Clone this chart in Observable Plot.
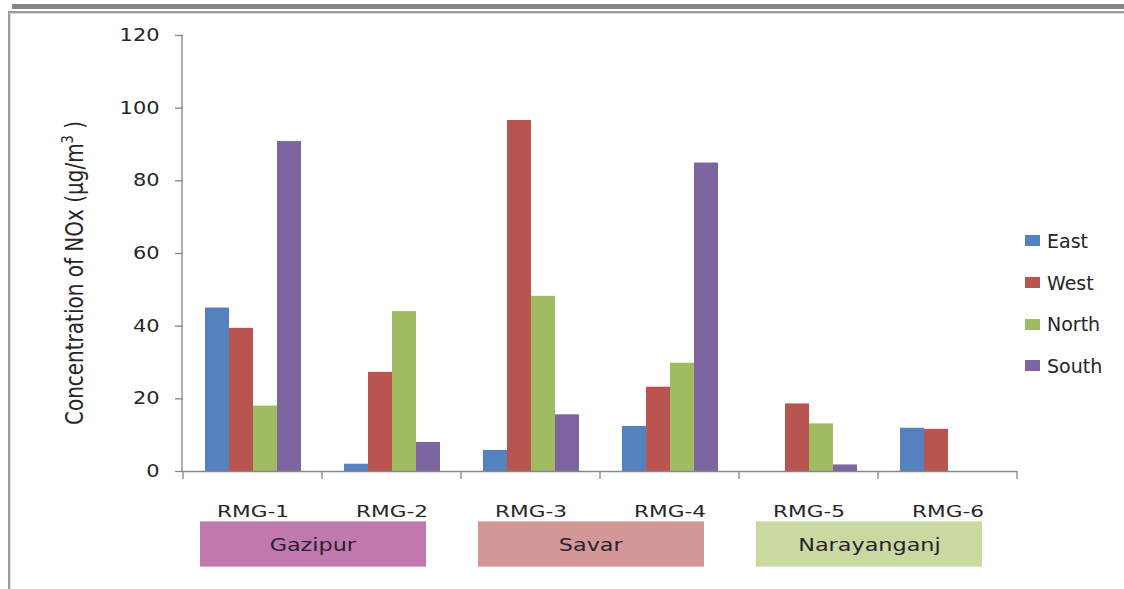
<!DOCTYPE html>
<html>
<head>
<meta charset="utf-8">
<script src="https://cdn.jsdelivr.net/npm/d3@7"></script>
<script src="https://cdn.jsdelivr.net/npm/@observablehq/plot@0.6"></script>
<style>
  html, body { margin: 0; padding: 0; background: #fff; }
  body { width: 1124px; height: 589px; position: relative; overflow: hidden;
         font-family: "DejaVu Sans", sans-serif; color: #262626; }
  #topbar { position: absolute; left: 12px; top: 4px; width: 1112px; height: 5px; background: #858585; }
  #frame { position: absolute; left: 8px; top: 11px; width: 1130px; height: 600px;
           border-left: 2px solid #9c9c9c; border-top: 2px solid #9c9c9c;
           box-shadow: inset 1px 1px 0 #dedede; }
  #chart { position: absolute; left: 0; top: 0; }
  #legend { position: absolute; left: 1025px; top: 220px; }
  .row { height: 41.7px; display: flex; align-items: center; font-size: 19px; color: #262626; }
  .sw { width: 15px; height: 11px; margin-right: 7px; flex: none; }
  .region { position: absolute; display: flex; align-items: center; justify-content: center;
            font-size: 18px; color: #2a2230; box-shadow: inset 0 1px 0 rgba(255,255,255,0.35), inset 0 -1px 0 rgba(255,255,255,0.35); }
  .region span { display: inline-block; transform: scaleX(1.24); }
</style>
</head>
<body>
<div id="topbar"></div>
<div id="frame"></div>
<div id="chart"></div>
<div id="legend"></div>
<script>
// NOx concentration (µg/m³) at six RMG sites, by wind direction
const sites = ["RMG-1", "RMG-2", "RMG-3", "RMG-4", "RMG-5", "RMG-6"];
const directions = ["East", "West", "North", "South"];
const eastValues  = [45, 2, 5.8, 12.4, 0, 11.9];
const westValues  = [39.4, 27.3, 96.6, 23.2, 18.6, 11.6];
const northValues = [18, 44, 48.2, 29.8, 13.1, 0];
const southValues = [90.8, 8, 15.6, 84.9, 1.8, 0];
const yTicks = [0, 20, 40, 60, 80, 100, 120];

// Areas the sites belong to
const regionNames = ["Gazipur", "Savar", "Narayanganj"];
const regionSites = [["RMG-1", "RMG-2"], ["RMG-3", "RMG-4"], ["RMG-5", "RMG-6"]];

const seriesColors = ["#5582be", "#b95550", "#a1bb62", "#7d65a0"];
const regionColors = ["#bf79ad", "#d39895", "#c9d9a0"];
const axisColor = "#868686";
const textColor = "#262626";

const seriesValues = [eastValues, westValues, northValues, southValues];
const rows = sites.flatMap((site, i) =>
  directions.map((direction, j) => ({site, direction, value: seriesValues[j][i]}))
);

const plot = Plot.plot({
  width: 1124,
  height: 530,
  marginTop: 35,
  marginLeft: 182,
  marginRight: 106,
  marginBottom: 59,
  style: {fontFamily: "DejaVu Sans", fontSize: "16px", color: textColor, background: "transparent", overflow: "visible"},
  fx: {domain: sites, padding: 0, axis: null, label: null},
  x: {domain: directions, paddingInner: 0, paddingOuter: 0.78, axis: null},
  y: {domain: [0, 120], axis: null},
  color: {domain: directions, range: seriesColors},
  marks: [
    Plot.barY(rows, {fx: "site", x: "direction", y: "value", fill: "direction"}),
    Plot.ruleY([0], {stroke: axisColor, strokeWidth: 1.3}),
    Plot.axisY({ticks: yTicks, tickSize: 8, tickPadding: 16, label: null, stroke: axisColor,
                fill: textColor, fontSize: 17, strokeWidth: 1.3}),
    Plot.axisFx({anchor: "bottom", tickSize: 0, tickPadding: 34, label: null, fill: textColor, fontSize: 16})
  ]
});
document.getElementById("chart").append(plot);

const svg = d3.select(plot);
const fx = plot.scale("fx");
const y = plot.scale("y");
const y0 = y.apply(0);
const yTop = y.apply(yTicks[yTicks.length - 1]);
const xLeft = fx.range[0];

// Value axis line and category boundary ticks
const axes = svg.append("g").attr("stroke", axisColor).attr("stroke-width", 1.3);
axes.append("line").attr("x1", xLeft).attr("x2", xLeft).attr("y1", yTop).attr("y2", y0);
const edges = sites.map(s => fx.apply(s)).concat([fx.apply(sites[sites.length - 1]) + fx.bandwidth]);
edges.forEach(x => axes.append("line").attr("x1", x).attr("x2", x).attr("y1", y0).attr("y2", y0 + 8));

// Widen tick label glyphs
function widen(selection, k) {
  selection.each(function () {
    const w = this.getComputedTextLength();
    this.setAttribute("textLength", w * k);
    this.setAttribute("lengthAdjust", "spacingAndGlyphs");
  });
}
widen(svg.selectAll('g[aria-label="y-axis tick label"] text'), 1.23);
widen(svg.selectAll('g[aria-label="fx-axis tick label"] text'), 1.35);

// Rotated value-axis title
const title = svg.append("text")
  .attr("transform", `translate(83,${(y0 + yTop) / 2 + 20}) scale(1.22,1) rotate(-90)`)
  .attr("text-anchor", "middle")
  .attr("font-size", 20)
  .attr("fill", textColor);
title.append("tspan").text("Concentration of NOx (µg/m");
title.append("tspan").attr("dy", -8).attr("font-size", 13).text("3");
title.append("tspan").attr("dy", 8).text(" )");

// Legend built from the colour scale
const color = plot.scale("color");
const legend = d3.select("#legend");
color.domain.forEach(d => {
  const row = legend.append("div").attr("class", "row");
  row.append("div").attr("class", "sw").style("background", color.apply(d));
  row.append("span").text(d);
});

// Area bands under the site labels
const step = fx.step;
regionNames.forEach((name, i) => {
  const first = regionSites[i][0];
  const left = fx.apply(first) + 0.12 * step;
  d3.select("body").append("div")
    .attr("class", "region")
    .style("left", `${left}px`)
    .style("top", `${y0 + 50}px`)
    .style("width", `${1.63 * step}px`)
    .style("height", "46px")
    .style("background", regionColors[i])
    .append("span").text(name);
});
</script>
</body>
</html>
